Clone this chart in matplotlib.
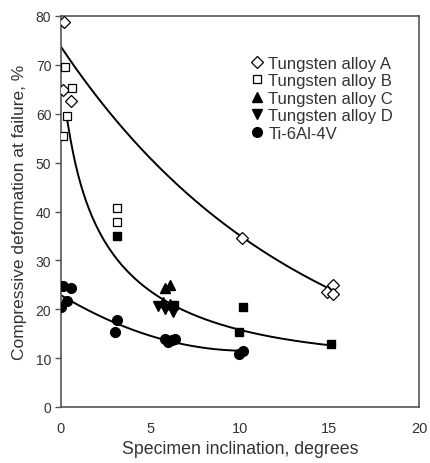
import numpy as np
import matplotlib
matplotlib.use("Agg")
import matplotlib.pyplot as plt

plt.rcParams['font.family'] = ['Liberation Sans', 'DejaVu Sans']

# ---- scatter data ----
A_x = [0.18, 0.10, 0.56, 10.13, 15.18, 14.84, 15.18]
A_y = [78.8, 64.8, 62.6, 34.5, 24.9, 23.6, 23.1]

B_x = [0.22, 0.60, 0.32, 0.13, 3.11, 3.11]
B_y = [69.6, 65.2, 59.6, 55.5, 40.7, 37.9]

Bf_x = [3.11, 6.27, 6.33, 10.15, 9.94, 15.08]
Bf_y = [34.9, 20.7, 20.9, 20.4, 15.4, 12.9]

C_x = [5.81, 6.09, 5.72, 6.09]
C_y = [24.3, 24.9, 21.4, 21.1]

D_x = [5.44, 5.81, 6.27]
D_y = [20.7, 20.0, 19.4]

Ti_x = [0.00, 0.10, 0.54, 0.32, 3.11, 3.02, 5.81, 6.18, 6.37, 5.95, 9.96, 10.15]
Ti_y = [20.4, 24.8, 24.3, 21.7, 17.9, 15.3, 13.9, 13.8, 13.9, 13.4, 10.8, 11.5]

# ---- trend line traces ----
trA_x = [0.0, 6.65, 10.13, 14.84]
trA_y = [73.7, 45.0, 34.7, 24.5]
trB_x = [0.32, 0.60, 1.53, 2.74, 3.95, 5.60, 10.0, 15.1]
trB_y = [59.6, 52.8, 40.5, 33.7, 26.8, 21.4, 15.4, 13.0]
trTi_x = [0.0, 3.1, 5.7, 9.96]
trTi_y = [22.9, 17.0, 13.9, 11.5]

x_ticks = [0, 5, 10, 15, 20]
y_ticks = [0, 10, 20, 30, 40, 50, 60, 70, 80]

fig = plt.figure(figsize=(4.30, 4.64), dpi=100)
ax = fig.add_axes([61/430, 1-408/464, (419-61)/430, (408-17)/464])

txt = '#333333'
spine_c = '#555555'

# trend lines
xa = np.linspace(min(trA_x), max(trA_x), 200)
pA = np.polyfit(trA_x, np.log(trA_y), 1)
ax.plot(xa, np.exp(np.polyval(pA, xa)), color='black', lw=1.4, zorder=2)

xb = np.linspace(min(trB_x), max(trB_x), 300)
pB = np.polyfit(np.log(trB_x), trB_y, 3)
ax.plot(xb, np.polyval(pB, np.log(xb)), color='black', lw=1.4, zorder=2)

xt = np.linspace(min(trTi_x), max(trTi_x), 200)
pT = np.polyfit(trTi_x, trTi_y, 2)
ax.plot(xt, np.polyval(pT, xt), color='black', lw=1.4, zorder=2)

ax.plot(A_x, A_y, ls='none', marker='D', ms=6.5, mfc='white', mec='black', mew=0.9,
        label='Tungsten alloy A', zorder=3)
ax.plot(B_x, B_y, ls='none', marker='s', ms=6.2, mfc='white', mec='black', mew=0.9,
        label='Tungsten alloy B', zorder=3)
ax.plot(C_x, C_y, ls='none', marker='^', ms=7.5, mfc='black', mec='black',
        label='Tungsten alloy C', zorder=3)
ax.plot(D_x, D_y, ls='none', marker='v', ms=7.5, mfc='black', mec='black',
        label='Tungsten alloy D', zorder=3)
ax.plot(Ti_x, Ti_y, ls='none', marker='o', ms=7, mfc='black', mec='black',
        label='Ti-6Al-4V', zorder=3)
ax.plot(Bf_x, Bf_y, ls='none', marker='s', ms=6.2, mfc='black', mec='black', zorder=3)

ax.set_xlim(0, 20)
ax.set_ylim(0, 80)
ax.set_xticks(x_ticks)
ax.set_yticks(y_ticks)
for s in ax.spines.values():
    s.set_color(spine_c)
    s.set_linewidth(1.2)
ax.tick_params(axis='y', direction='out', length=4, width=1, color=spine_c,
               labelsize=10, labelcolor=txt, pad=3)
ax.tick_params(axis='x', length=0, labelsize=10.5, labelcolor=txt, pad=10)

ax.set_xlabel('Specimen inclination, degrees', fontsize=12.8, color=txt, labelpad=4)
ax.set_ylabel('Compressive deformation at failure, %', fontsize=12.5, color=txt, labelpad=6)

leg = ax.legend(loc='upper left', bbox_to_anchor=(0.50, 0.92), frameon=False,
                fontsize=12, labelspacing=0.15, handletextpad=0.2,
                handlelength=1.0, borderpad=0, labelcolor=txt)

fig.savefig('out.png', dpi=100)
